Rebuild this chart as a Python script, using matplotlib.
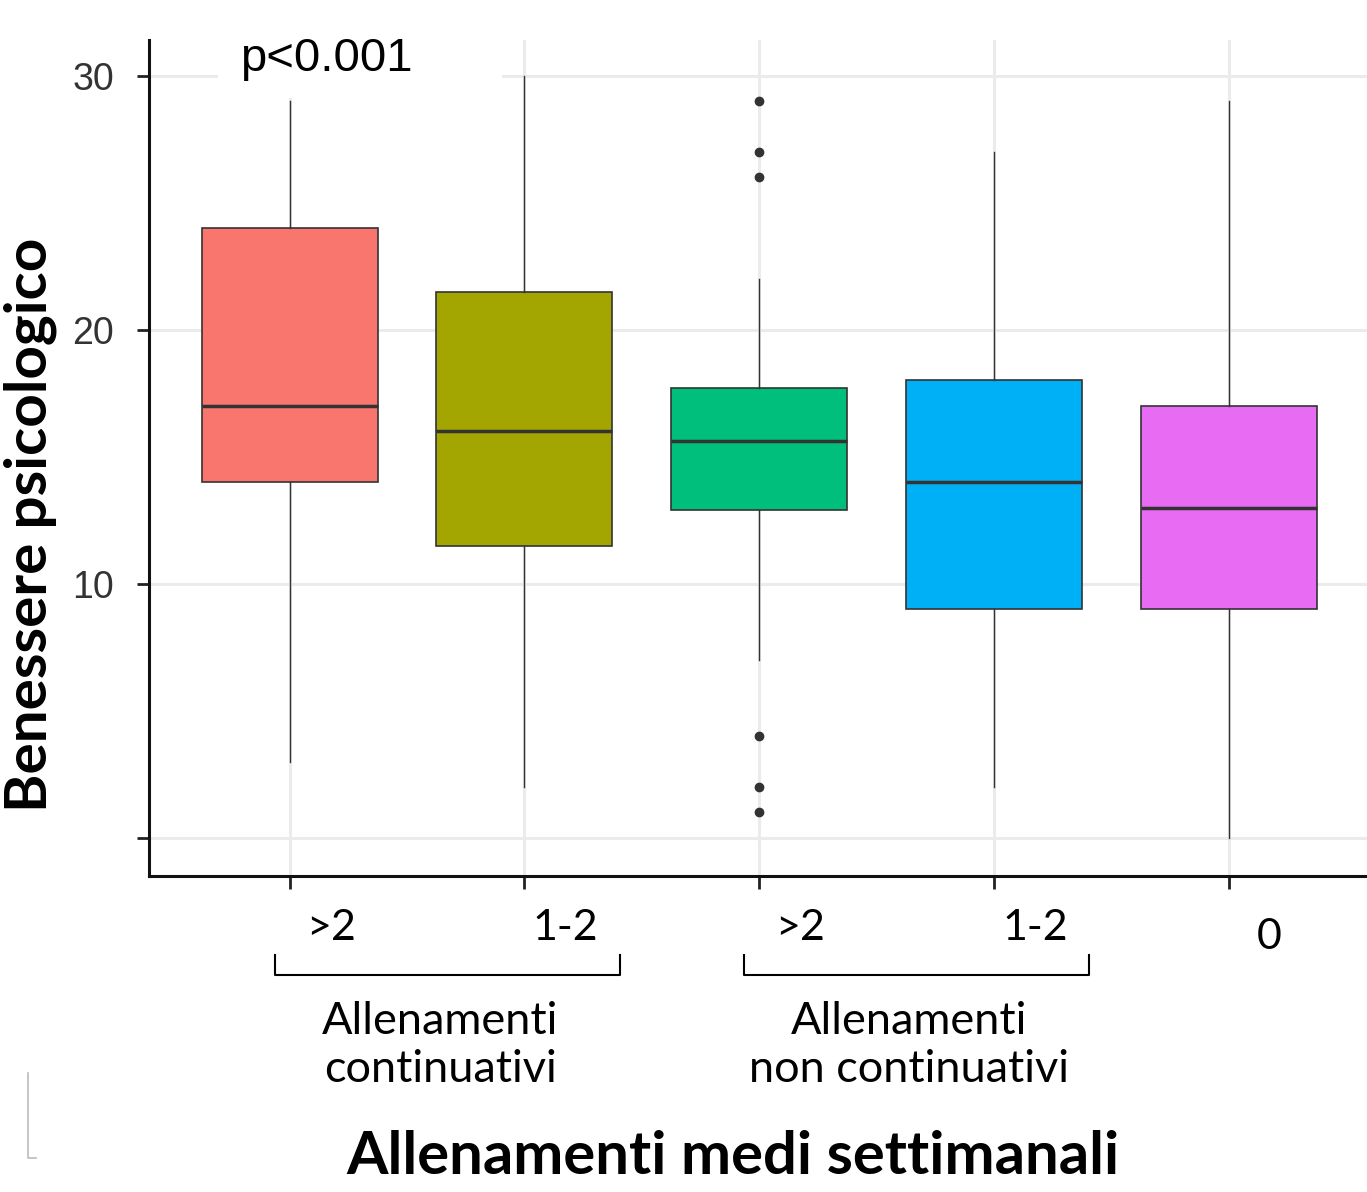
#! /usr/bin/env python3
# boxplot of psychological wellbeing by weekly training frequency
import matplotlib
matplotlib.use("Agg")
import matplotlib.pyplot as plt
import matplotlib.transforms as mtransforms
from matplotlib.lines import Line2D
from matplotlib.patches import Rectangle

# data
groups = [">2", "1-2", ">2", "1-2", "0"]
whisker_low = [3, 2, 7, 2, 0]
q1 = [14, 11.5, 12.9, 9, 9]
medians = [17, 16, 15.6, 14, 13]
q3 = [24, 21.5, 17.7, 18, 17]
whisker_high = [29, 30, 22, 27, 29]
outliers = [[], [], [29, 27, 26, 4, 2, 1], [], []]
colors = ["#F8766D", "#A3A500", "#00BF7D", "#00B0F6", "#E76BF3"]
group_names = ["Allenamenti\ncontinuativi", "Allenamenti\nnon continuativi"]

fig = plt.figure(figsize=(13.67, 11.92), dpi=100)
ax = fig.add_axes([149 / 1367, 1 - 876 / 1192, 1 - 149 / 1367, 836 / 1192])

positions = list(range(1, len(groups) + 1))
stats = []
for i in range(len(groups)):
    stats.append({"med": medians[i], "q1": q1[i], "q3": q3[i],
                  "whislo": whisker_low[i], "whishi": whisker_high[i],
                  "fliers": outliers[i]})

bp = ax.bxp(stats, positions=positions, widths=0.75, patch_artist=True,
            showcaps=False, zorder=3,
            boxprops=dict(edgecolor="#333333", linewidth=1.2),
            whiskerprops=dict(color="#333333", linewidth=1.0),
            medianprops=dict(color="#333333", linewidth=2.5),
            flierprops=dict(marker="o", markerfacecolor="#333333",
                            markeredgecolor="#333333", markersize=6))
for patch, c in zip(bp["boxes"], colors):
    patch.set_facecolor(c)

ax.set_xlim(0.4, 5.59)
ax.set_ylim(-1.5, 31.4)
ax.set_yticks([0, 10, 20, 30])
ax.set_yticklabels(["", "10", "20", "30"], family="Liberation Sans",
                   fontsize=27, color="#333333")
ax.set_xticks(positions)
ax.set_xticklabels([])
ax.tick_params(axis="both", length=9, width=2, color="#222222")
ax.tick_params(axis="y", pad=16)
ax.grid(True, color="#EBEBEB", linewidth=2.2, zorder=0)
ax.set_axisbelow(True)
for s in ["top", "right"]:
    ax.spines[s].set_visible(False)
for s in ["left", "bottom"]:
    ax.spines[s].set_linewidth(2.2)
    ax.spines[s].set_color("#111111")

# category labels, shifted right of the ticks
trans = mtransforms.blended_transform_factory(ax.transData, ax.transAxes)
for i, lab in enumerate(groups):
    yy = -0.073 if lab == "0" else -0.062
    ax.text(positions[i] + 0.175, yy, lab, transform=trans, ha="center", va="center",
            family="Lato", fontsize=31, clip_on=False)

# brackets for the two groups
for start, name in zip([1, 3], group_names):
    x0 = start - 0.064
    x1 = start + 1.405
    ax.plot([x0, x0, x1, x1], [-0.094, -0.118, -0.118, -0.094], transform=trans,
            color="black", linewidth=1.5, clip_on=False)
    ax.text((x0 + x1) / 2 - 0.03, -0.203, name, transform=trans, ha="center", va="center",
            family="Lato", fontsize=32.5, linespacing=1.2, clip_on=False)

# white patch behind the p-value
ax.add_patch(Rectangle((0.694, 29.1), 1.21, 2.3, facecolor="white",
                       edgecolor="none", zorder=1))
ax.text(1.157, 30.65, "p<0.001", ha="center", va="center", fontsize=34,
        family="Liberation Sans", zorder=1.5)

fig.text(0.536, 0.029, "Allenamenti medi settimanali", ha="center", va="center",
         family="Lato", fontweight="bold", fontsize=43)
fig.text(0.022, 0.56, "Benessere psicologico", ha="center", va="center",
         rotation=90, family="Lato", fontweight="bold", fontsize=42)

# small stray mark in the lower left corner
fig.add_artist(Line2D([28 / 1367, 28 / 1367, 36 / 1367],
                      [1 - 1073 / 1192, 1 - 1158 / 1192, 1 - 1158 / 1192],
                      color="#BBBBBB", linewidth=1.2))

plt.savefig("out.png", dpi=100)
plt.close("all")
